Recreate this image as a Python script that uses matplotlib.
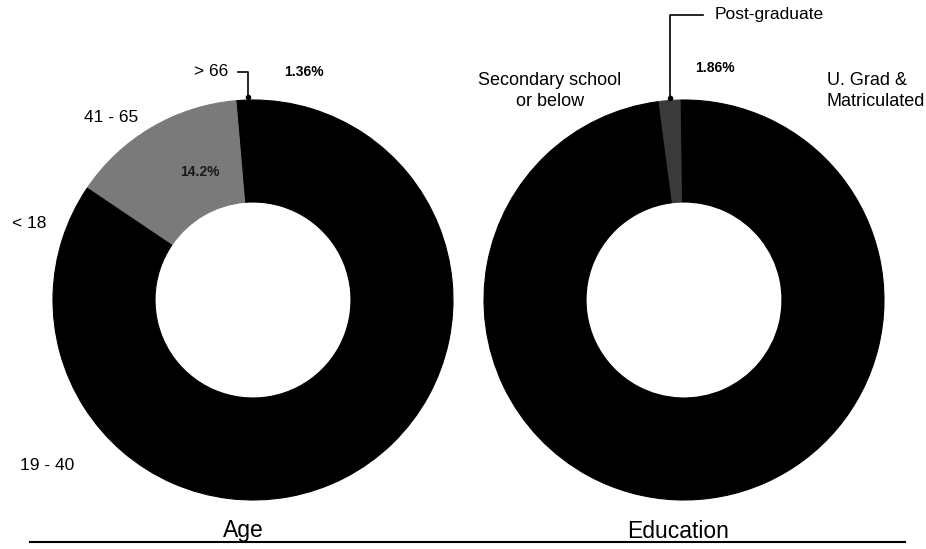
import matplotlib
matplotlib.use("Agg")
import matplotlib.pyplot as plt

plt.rcParams['font.family'] = ['Liberation Sans', 'DejaVu Sans']

# Data
age_labels = ['> 66', '41 - 65', '< 18', '19 - 40']
age_values = [1.36, 14.2, 9.0, 75.44]
age_colors = ['#000000', '#7a7a7a', '#000000', '#000000']

edu_labels = ['Post-graduate', 'Secondary school or below', 'U. Grad & Matriculated']
edu_values = [1.86, 40.0, 58.14]
edu_colors = ['#3a3a3a', '#000000', '#000000']

W, H = 926, 549
fig = plt.figure(figsize=(W / 100, H / 100), dpi=100)
ax = fig.add_axes([0, 0, 1, 1])

def Y(y):
    return H - y

R = 200
ring = dict(width=R * 0.51, linewidth=0.8)
w1, _ = ax.pie(age_values, colors=age_colors, startangle=90, counterclock=True,
               center=(253, Y(300)), radius=R, wedgeprops=ring, frame=True)
w2, _ = ax.pie(edu_values, colors=edu_colors, startangle=90.8, counterclock=True,
               center=(684, Y(300)), radius=R, wedgeprops=ring, frame=True)
for w in list(w1) + list(w2):
    w.set_edgecolor(w.get_facecolor())

ax.set_xlim(0, W)
ax.set_ylim(0, H)
ax.set_aspect('equal')
ax.axis('off')

fs = 12.5
# Age labels
ax.text(211, Y(72), age_labels[0], ha='center', va='center', fontsize=fs)
ax.text(111, Y(118), age_labels[1], ha='center', va='center', fontsize=fs)
ax.text(12, Y(223), age_labels[2], ha='left', va='center', fontsize=fs)
ax.text(20, Y(465), age_labels[3], ha='left', va='center', fontsize=fs)
ax.text(304, Y(72), f'{age_values[0]:.2f}%', ha='center', va='center',
        fontsize=10, fontweight='bold')
ax.text(200, Y(172), f'{age_values[1]:.1f}%', ha='center', va='center',
        fontsize=10, fontweight='bold', color='#1a1a1a')
# leader for > 66
ax.plot([238, 248, 248], [Y(72), Y(72), Y(96)], color='black', lw=1.2)
ax.plot([248], [Y(97)], 'o', color='black', ms=3)

# Education labels
ax.text(550, Y(91), 'Secondary school\nor below', ha='center', va='center',
        fontsize=13, linespacing=1.25)
ax.text(827, Y(91), 'U. Grad &\nMatriculated', ha='left', va='center',
        fontsize=13, linespacing=1.25)
ax.text(715, Y(15), edu_labels[0], ha='left', va='center', fontsize=fs)
ax.text(715, Y(68), f'{edu_values[0]:.2f}%', ha='center', va='center',
        fontsize=10, fontweight='bold')
ax.plot([703, 670, 670], [Y(15), Y(15), Y(97)], color='black', lw=1.2)
ax.plot([670], [Y(98)], 'o', color='black', ms=3)

# Titles and base line
ax.text(243, Y(531), 'Age', ha='center', va='center', fontsize=16.5)
ax.text(678, Y(531), 'Education', ha='center', va='center', fontsize=16.5)
ax.plot([30, 905], [Y(542), Y(542)], color='black', lw=1.5)

fig.savefig('out.png', dpi=100, facecolor='white')
